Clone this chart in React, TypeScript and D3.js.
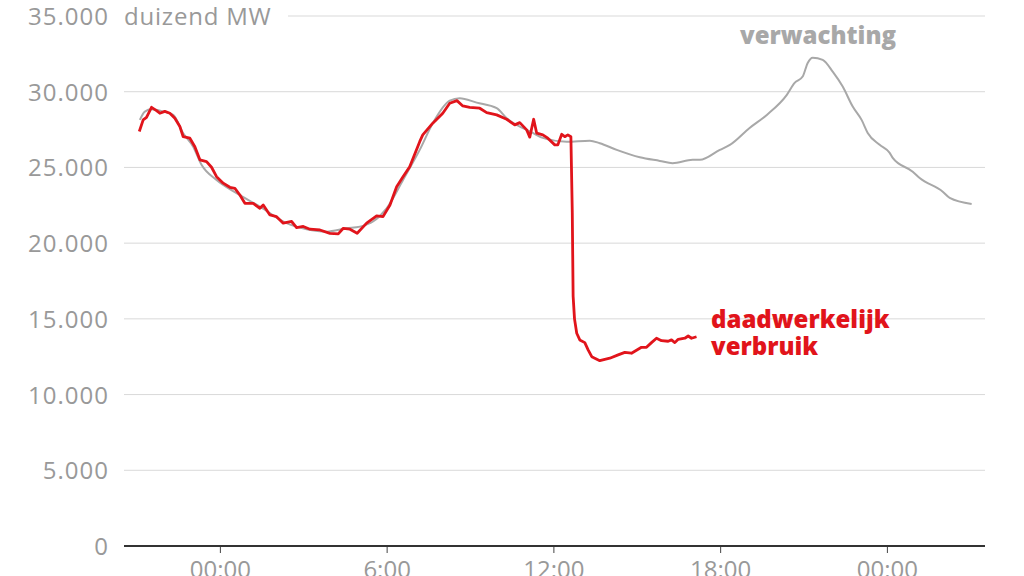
import React, { useEffect, useRef } from 'react';
import * as d3 from 'd3';

// hours relative to 00:00 of the first day
const forecastHours = [-2.88, -2.7, -2.46, -2.04, -1.68, -1.32, -0.96, -0.66, -0.12, 0.6, 1.44, 2.4, 3.12, 3.84, 4.56, 5.04, 5.51, 6.0, 6.59, 7.19, 7.66, 8.27, 8.63, 9.24, 9.96, 10.32, 11.26, 11.62, 12.48, 13.31, 13.67, 14.28, 15.11, 15.83, 16.29, 17.01, 17.27, 17.99, 18.35, 19.06, 19.68, 20.4, 20.68, 20.97, 21.15, 21.33, 21.69, 22.05, 22.41, 22.77, 23.09, 23.31, 23.74, 24.1, 24.21, 24.93, 25.18, 26.01, 26.26, 27.05];
const forecastValues = [28140, 28690, 28840, 28690, 28470, 27260, 26370, 25170, 24170, 23300, 22410, 21320, 20920, 20760, 20980, 21090, 21430, 22300, 24170, 26160, 27920, 29410, 29570, 29280, 28910, 28250, 27280, 26950, 26700, 26770, 26600, 26160, 25670, 25430, 25280, 25500, 25500, 26160, 26490, 27610, 28470, 29790, 30580, 31000, 31900, 32250, 32100, 31330, 30340, 29020, 28140, 27280, 26490, 25960, 25630, 24720, 24300, 23400, 22990, 22590];

const actualHours = [-2.9, -2.76, -2.64, -2.46, -2.28, -2.16, -1.98, -1.8, -1.62, -1.44, -1.32, -1.08, -0.9, -0.72, -0.48, -0.3, -0.12, 0.12, 0.36, 0.54, 0.72, 0.9, 1.2, 1.44, 1.56, 1.8, 2.04, 2.28, 2.58, 2.76, 3.0, 3.24, 3.6, 3.96, 4.26, 4.44, 4.68, 4.94, 5.28, 5.64, 5.87, 6.12, 6.36, 6.59, 6.83, 7.19, 7.3, 7.66, 8.02, 8.27, 8.53, 8.74, 8.99, 9.35, 9.6, 9.96, 10.32, 10.61, 10.79, 11.04, 11.15, 11.29, 11.4, 11.62, 11.8, 12.05, 12.16, 12.3, 12.41, 12.52, 12.63, 12.68, 12.71, 12.76, 12.84, 12.95, 13.13, 13.25, 13.38, 13.67, 13.85, 14.03, 14.33, 14.57, 14.81, 15.05, 15.17, 15.35, 15.53, 15.71, 15.89, 16.13, 16.25, 16.37, 16.49, 16.73, 16.85, 16.97, 17.15];
const actualValues = [27370, 28140, 28310, 28970, 28750, 28580, 28700, 28580, 28250, 27700, 27030, 26930, 26370, 25500, 25380, 25010, 24390, 23960, 23690, 23620, 23180, 22630, 22630, 22300, 22520, 21860, 21750, 21320, 21430, 21030, 21100, 20920, 20870, 20650, 20610, 20980, 20920, 20650, 21320, 21800, 21750, 22520, 23730, 24390, 25050, 26700, 27150, 27920, 28580, 29240, 29410, 29060, 28970, 28910, 28620, 28470, 28180, 27810, 27960, 27480, 27000, 28180, 27260, 27150, 26930, 26490, 26490, 27190, 27030, 27150, 27030, 22000, 16500, 15000, 14050, 13610, 13430, 12950, 12500, 12240, 12330, 12400, 12620, 12790, 12730, 12990, 13120, 13120, 13430, 13720, 13560, 13520, 13610, 13430, 13650, 13720, 13870, 13720, 13820];

const yTicks = [0, 5000, 10000, 15000, 20000, 25000, 30000, 35000];
const xTicks = [0, 6, 12, 18, 24];
const xTickLabels = ['00:00', '6:00', '12:00', '18:00', '00:00'];

const grey = '#a8a8a8';
const red = '#e1141b';
const font = '"Open Sans", Lato, sans-serif';

export default function App() {
    const ref = useRef<SVGSVGElement | null>(null);
    const width = 1024;
    const height = 576;

    useEffect(() => {
        const svg = d3.select(ref.current);
        svg.selectAll('*').remove();

        const x = d3.scaleLinear().domain([-3.45, 27.53]).range([124, 985]);
        const y = d3.scaleLinear().domain([0, 35000]).range([546, 16]);
        const nf = (v: number) => v === 0 ? '0' : d3.format(',')(v).replace(',', '.');

        // gridlines
        svg.append('g').selectAll('line')
            .data(yTicks.filter(t => t > 0))
            .enter().append('line')
            .attr('x1', d => d === 35000 ? 288 : 124)
            .attr('x2', 985)
            .attr('y1', d => y(d))
            .attr('y2', d => y(d))
            .attr('stroke', '#d9d9d9')
            .attr('stroke-width', 1);

        // y labels
        svg.append('g').selectAll('text')
            .data(yTicks)
            .enter().append('text')
            .attr('x', 109)
            .attr('y', d => y(d) + 9)
            .attr('text-anchor', 'end')
            .style('font-family', font)
            .style('font-size', '24px')
            .style('letter-spacing', '1px')
            .attr('fill', '#999')
            .text(d => nf(d));

        svg.append('text')
            .attr('x', 124)
            .attr('y', y(35000) + 9)
            .style('font-family', font)
            .style('font-size', '24px')
            .style('letter-spacing', '0.8px')
            .attr('fill', '#999')
            .text('duizend MW');

        // x axis
        const xAxis = d3.axisBottom(x)
            .tickValues(xTicks)
            .tickSize(7)
            .tickPadding(8)
            .tickFormat((d, i) => xTickLabels[i]);
        const ax = svg.append('g')
            .attr('transform', `translate(0,${y(0)})`)
            .call(xAxis);
        ax.select('.domain').remove();
        ax.append('line')
            .attr('x1', 124).attr('x2', 985)
            .attr('stroke', '#333').attr('stroke-width', 2);
        ax.selectAll('.tick line').attr('stroke', '#444');
        ax.selectAll('.tick text')
            .style('font-family', font)
            .style('font-size', '24px')
            .attr('fill', '#999');

        const line = d3.line<[number, number]>()
            .x(d => x(d[0]))
            .y(d => y(d[1]))
            .curve(d3.curveMonotoneX);

        const forecast = forecastHours.map((h, i) => [h, forecastValues[i]] as [number, number]);
        const actual = actualHours.map((h, i) => [h, actualValues[i]] as [number, number]);

        svg.append('path')
            .datum(forecast)
            .attr('d', line)
            .attr('fill', 'none')
            .attr('stroke', grey)
            .attr('stroke-width', 2);

        svg.append('path')
            .datum(actual)
            .attr('d', d3.line<[number, number]>().x(d => x(d[0])).y(d => y(d[1])))
            .attr('fill', 'none')
            .attr('stroke', red)
            .attr('stroke-width', 2.8)
            .attr('stroke-linejoin', 'round');

        svg.append('text')
            .attr('x', 740).attr('y', 44)
            .style('font-family', font)
            .style('font-size', '24px')
            .style('font-weight', 800)
            .attr('fill', grey)
            .text('verwachting');

        const lbl = svg.append('text')
            .style('font-family', font)
            .style('font-size', '24px')
            .style('font-weight', 800)
            .attr('fill', red);
        lbl.append('tspan').attr('x', 711).attr('y', 328).text('daadwerkelijk');
        lbl.append('tspan').attr('x', 711).attr('y', 355).text('verbruik');
    }, []);

    return (
        <svg ref={ref} width={width} height={height}
            style={{ position: 'absolute', left: 0, top: 0, background: '#fff' }}>
        </svg>
    );
}
